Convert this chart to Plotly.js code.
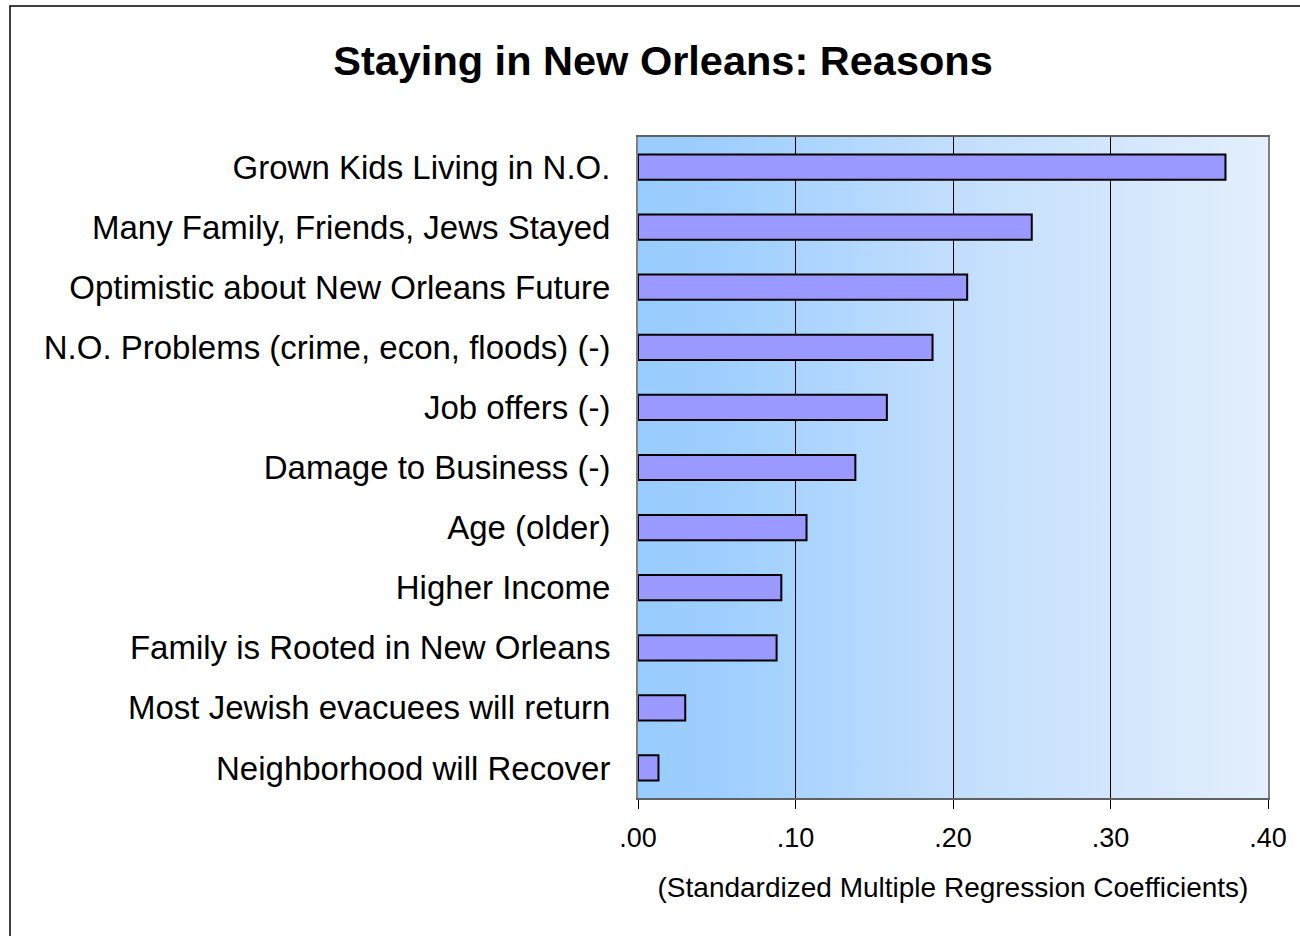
<!DOCTYPE html>
<html>
<head>
<meta charset="utf-8">
<script src="https://cdn.plot.ly/plotly-3.0.1.min.js"></script>
<style>html,body{margin:0;padding:0;background:#fff;}#chart{width:1300px;height:936px;}</style>
</head>
<body>
<div id="chart"></div>
<script>
const reasons = [
  "Grown Kids Living in N.O.",
  "Many Family, Friends, Jews Stayed",
  "Optimistic about New Orleans Future",
  "N.O. Problems (crime, econ, floods) (-)",
  "Job offers (-)",
  "Damage to Business (-)",
  "Age (older)",
  "Higher Income",
  "Family is Rooted in New Orleans",
  "Most Jewish evacuees will return",
  "Neighborhood will Recover"
];
const coefficients = [0.373, 0.250, 0.209, 0.187, 0.158, 0.138, 0.107, 0.091, 0.088, 0.030, 0.013];
const tickValues = [0, 0.1, 0.2, 0.3, 0.4];
const tickLabels = [".00", ".10", ".20", ".30", ".40"];

const gradSvg = '<svg xmlns="http://www.w3.org/2000/svg" width="630" height="661" preserveAspectRatio="none">' +
  '<defs><linearGradient id="g" x1="0" y1="0" x2="1" y2="0">' +
  '<stop offset="0" stop-color="#99ccff"/><stop offset="0.12" stop-color="#9dceff"/>' +
  '<stop offset="0.5" stop-color="#c2defd"/><stop offset="1" stop-color="#e3effc"/>' +
  '</linearGradient></defs><rect width="630" height="661" fill="url(#g)"/></svg>';
const gradUri = 'data:image/svg+xml;base64,' + btoa(gradSvg);

const trace = {
  type: 'bar',
  orientation: 'h',
  x: coefficients,
  y: reasons,
  width: 0.42,
  marker: {color: '#9999ff', line: {color: '#000000', width: 2}},
  hoverinfo: 'x+y'
};

const layout = {
  width: 1300,
  height: 936,
  margin: {l: 638, r: 32, t: 137, b: 138},
  paper_bgcolor: '#ffffff',
  plot_bgcolor: 'rgba(0,0,0,0)',
  font: {family: 'Liberation Sans, Arial, sans-serif', color: '#000'},
  title: {
    text: '<b>Staying in New Orleans: Reasons</b>',
    font: {size: 41.5, family: 'Liberation Sans, Arial, sans-serif', color: '#000'},
    xref: 'container', x: 663/1300, xanchor: 'center',
    yref: 'container', y: 1 - 60/936, yanchor: 'middle'
  },
  xaxis: {
    range: [0, 0.4],
    tickvals: tickValues,
    ticktext: tickLabels,
    ticks: 'outside', ticklen: 9, tickcolor: '#000', tickwidth: 1,
    ticklabelstandoff: 6,
    tickfont: {size: 27},
    showgrid: true, gridcolor: '#000', gridwidth: 1,
    zeroline: false,
    showline: true, linecolor: '#606060', linewidth: 2, mirror: true,
    title: {text: '(Standardized Multiple Regression Coefficients)', font: {size: 28}, standoff: 25},
    fixedrange: true
  },
  yaxis: {
    type: 'category',
    categoryorder: 'array',
    categoryarray: reasons.slice().reverse(),
    range: [-0.5, reasons.length - 0.5],
    ticks: '', ticklabelstandoff: 19,
    tickfont: {size: 33},
    showgrid: false, zeroline: false,
    showline: true, linecolor: '#808080', linewidth: 2, mirror: true,
    fixedrange: true
  },
  images: [{
    source: gradUri, xref: 'paper', yref: 'paper', x: 0, y: 1, sizex: 1, sizey: 1,
    xanchor: 'left', yanchor: 'top', sizing: 'stretch', layer: 'below'
  }],
  shapes: [{
    type: 'rect', xref: 'paper', yref: 'paper',
    x0: (10 - 638) / 630, x1: (1310 - 638) / 630,
    y0: 1 - (945 - 137) / 661, y1: 1 - (6 - 137) / 661,
    line: {color: '#000', width: 1.5}, fillcolor: 'rgba(0,0,0,0)', layer: 'below'
  }],
  showlegend: false,
  bargap: 0.58
};

Plotly.newPlot('chart', [trace], layout, {displayModeBar: false, staticPlot: true});
</script>
</body>
</html>
